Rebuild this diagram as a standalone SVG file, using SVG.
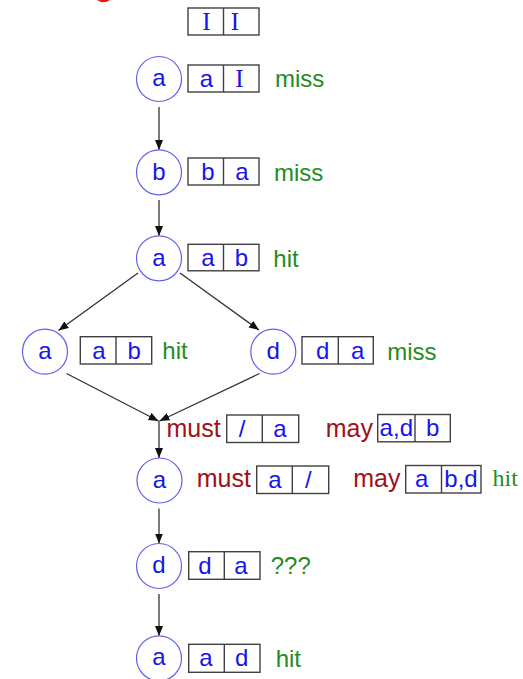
<svg xmlns="http://www.w3.org/2000/svg" width="523" height="679" viewBox="0 0 523 679">
<style>
.bg{fill:#ffffff}
.nc{fill:#ffffff;stroke:#6060f0;stroke-width:1.2}
.bx{fill:#ffffff;stroke:#404040;stroke-width:1.4}
.dv{stroke:#404040;stroke-width:1.4}
.t{font-family:"Liberation Sans",Arial,sans-serif;font-size:24px;fill:#1414ee;text-anchor:middle}
.ts{font-family:"Liberation Serif","Times New Roman",serif;font-size:25px;fill:#1414ee;text-anchor:middle}
.g{font-family:"Liberation Sans",Arial,sans-serif;font-size:24px;fill:#238c23}
.gs{font-family:"Liberation Serif","Times New Roman",serif;font-size:24px;fill:#238c23}
.r{font-family:"Liberation Sans",Arial,sans-serif;font-size:25px;fill:#a01018}
.e{stroke:#333333;stroke-width:1.3;fill:none;marker-end:url(#ah)}
</style>
<defs>
<marker id="ah" markerUnits="userSpaceOnUse" markerWidth="11" markerHeight="9" refX="10" refY="4" orient="auto">
<path d="M0,0 L10,4 L0,8 Z" fill="#111111"/>
</marker>
</defs>
<rect class="bg" x="0" y="0" width="523" height="679"/>
<path d="M97,0 Q103.5,4.5 110,0 Z" fill="#ee1111"/>

<g id="connectors">
<line class="e" x1="159" y1="107" x2="159" y2="150"/>
<line class="e" x1="159" y1="200" x2="159" y2="236"/>
<line class="e" x1="138" y1="273" x2="58.5" y2="330.5"/>
<line class="e" x1="180" y1="273" x2="259" y2="330"/>
<line class="e" x1="66.5" y1="373.5" x2="158.5" y2="421"/>
<line class="e" x1="259.5" y1="373.5" x2="159.5" y2="421"/>
<line class="e" x1="159" y1="421" x2="159" y2="458"/>
<line class="e" x1="159" y1="508.5" x2="159" y2="543.5"/>
<line class="e" x1="159" y1="594" x2="159" y2="636"/>
</g>

<g id="init">
<rect class="bx" x="188" y="8" width="71" height="27"/>
<line class="dv" x1="223.5" y1="8" x2="223.5" y2="35"/>
<text class="ts" x="206.5" y="29.5">I</text>
<text class="ts" x="235" y="29.5">I</text>
</g>

<g id="n1">
<circle class="nc" cx="159" cy="79" r="22.5"/>
<text class="t" x="159" y="86">a</text>
<rect class="bx" x="188" y="65" width="71" height="27"/>
<line class="dv" x1="223.5" y1="65" x2="223.5" y2="92"/>
<text class="t" x="206.5" y="86.5">a</text>
<text class="ts" x="239.5" y="86.5">I</text>
<text class="g" x="275" y="87">miss</text>
</g>

<g id="n2">
<circle class="nc" cx="159" cy="172.3" r="22.5"/>
<text class="t" x="159" y="180">b</text>
<rect class="bx" x="188" y="158" width="71" height="27"/>
<line class="dv" x1="223.5" y1="158" x2="223.5" y2="185"/>
<text class="t" x="208" y="180">b</text>
<text class="t" x="242" y="180">a</text>
<text class="g" x="274" y="181">miss</text>
</g>

<g id="n3">
<circle class="nc" cx="159" cy="258.3" r="22.5"/>
<text class="t" x="159" y="265.5">a</text>
<rect class="bx" x="188" y="244.3" width="71" height="26.5"/>
<line class="dv" x1="223.5" y1="244.3" x2="223.5" y2="270.8"/>
<text class="t" x="208" y="265.5">a</text>
<text class="t" x="241.5" y="265.5">b</text>
<text class="g" x="273.3" y="266.5">hit</text>
</g>

<g id="n4">
<circle class="nc" cx="45" cy="351.7" r="22.5"/>
<text class="t" x="45" y="359">a</text>
<rect class="bx" x="80.3" y="336.7" width="71.4" height="27.3"/>
<line class="dv" x1="116" y1="336.7" x2="116" y2="364"/>
<text class="t" x="99" y="358.5">a</text>
<text class="t" x="134.3" y="358.5">b</text>
<text class="g" x="162.3" y="359.3">hit</text>
</g>

<g id="n5">
<circle class="nc" cx="273.3" cy="351.7" r="22.5"/>
<text class="t" x="273.3" y="359">d</text>
<rect class="bx" x="302" y="336.7" width="71.3" height="27.3"/>
<line class="dv" x1="338.3" y1="336.7" x2="338.3" y2="364"/>
<text class="t" x="322.7" y="358.5">d</text>
<text class="t" x="357.7" y="358.5">a</text>
<text class="g" x="387.3" y="359.5">miss</text>
</g>

<g id="join">
<text class="r" x="166.5" y="436.7">must</text>
<rect class="bx" x="226.7" y="415" width="72" height="27.5"/>
<line class="dv" x1="262.3" y1="415" x2="262.3" y2="442.5"/>
<text class="t" x="242" y="436.5">/</text>
<text class="t" x="280" y="436.5">a</text>
<text class="r" x="325.7" y="436.5">may</text>
<rect class="bx" x="377.7" y="414.5" width="72.6" height="27.3"/>
<line class="dv" x1="415" y1="414.5" x2="415" y2="441.8"/>
<text class="t" x="396.3" y="436">a,d</text>
<text class="t" x="432.7" y="436">b</text>
</g>

<g id="n6">
<circle class="nc" cx="159.5" cy="480.5" r="22.5"/>
<text class="t" x="159.5" y="487.5">a</text>
<text class="r" x="196.7" y="487">must</text>
<rect class="bx" x="256.7" y="466" width="72" height="27.5"/>
<line class="dv" x1="292.3" y1="466" x2="292.3" y2="493.5"/>
<text class="t" x="275" y="487.5">a</text>
<text class="t" x="308.3" y="487.5">/</text>
<text class="r" x="353.3" y="486.5">may</text>
<rect class="bx" x="405.7" y="465.5" width="75.3" height="27.5"/>
<line class="dv" x1="441.5" y1="465.5" x2="441.5" y2="493"/>
<text class="t" x="421.7" y="487">a</text>
<text class="t" x="461" y="487">b,d</text>
<text class="gs" x="492.5" y="486">hit</text>
</g>

<g id="n7">
<circle class="nc" cx="159" cy="566" r="22.5"/>
<text class="t" x="159" y="573">d</text>
<rect class="bx" x="188.7" y="551.7" width="71.3" height="27.6"/>
<line class="dv" x1="224.3" y1="551.7" x2="224.3" y2="579.3"/>
<text class="t" x="205" y="573.5">d</text>
<text class="t" x="241" y="573.5">a</text>
<text class="g" x="270.7" y="574">???</text>
</g>

<g id="n8">
<circle class="nc" cx="159" cy="658.3" r="22.5"/>
<text class="t" x="159" y="665.3">a</text>
<rect class="bx" x="188.7" y="644.3" width="71.3" height="28"/>
<line class="dv" x1="224.3" y1="644.3" x2="224.3" y2="672.3"/>
<text class="t" x="206" y="666">a</text>
<text class="t" x="241.7" y="666">d</text>
<text class="g" x="275.7" y="666.5">hit</text>
</g>
</svg>
